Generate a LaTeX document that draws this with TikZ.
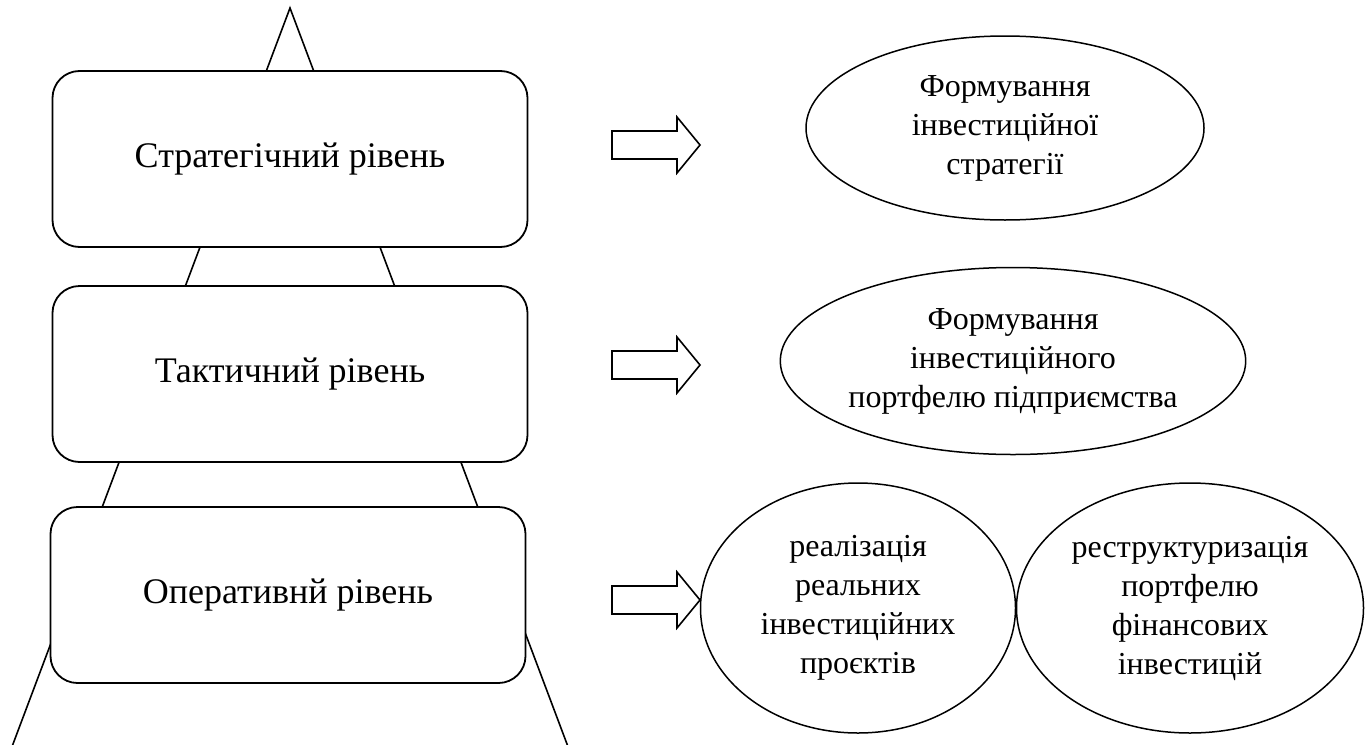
\documentclass[tikz,border=0pt]{standalone}
\usepackage{fontspec}
\setmainfont{Liberation Serif}
\usetikzlibrary{shapes.geometric}
\begin{document}
\begin{tikzpicture}[x=1pt,y=-1pt,
  line/.style={line width=1.6pt, black},
  level/.style={draw, line width=1.8pt, fill=white, rounded corners=27pt,
    minimum width=475pt, minimum height=176pt, inner sep=0pt,
    font=\fontsize{36}{42}\selectfont},
  oval/.style={draw, ellipse, line width=1.5pt, fill=white, inner sep=0pt,
    align=center, font=\fontsize{32}{39}\selectfont},
  barrow/.pic={\draw[line width=1.6pt, line join=miter]
    (0,-14) -- (65,-14) -- (65,-28) -- (88,0) -- (65,28) -- (65,14) -- (0,14) -- cycle;}]
\useasboundingbox (0,0) rectangle (1370,744);
\begin{scope}
\clip (0,0) rectangle (1370,744);
\coordinate (apex) at (290,8);
\coordinate (bl) at (10,752);
\coordinate (br) at (570,752);
\draw[line] (bl) -- (apex) -- (br);
\end{scope}
\node[level] (s) at (290,159) {Стратегічний рівень};
\node[level] (t) at (290,374) {Тактичний рівень};
\node[level] (o) at (288,595) {Оперативнй рівень};
\pic at (612,145) {barrow};
\pic at (612,365) {barrow};
\pic at (612,600) {barrow};
\node[oval, minimum width=398pt, minimum height=184pt] (e1) at (1005,128)
  {Формування\\інвестиційної\\стратегії};
\node[oval, minimum width=453pt, minimum height=187pt] (e2) at (1013,361)
  {Формування\\інвестиційного\\портфелю підприємства};
\node[oval, minimum width=315pt, minimum height=250pt] (c1) at (858,608)
  {реалізація\\реальних\\інвестиційних\\проєктів};
\node[oval, minimum width=347pt, minimum height=250pt] (c2) at (1190,608)
  {реструктуризація\\портфелю\\фінансових\\інвестицій};
\end{tikzpicture}
\end{document}
